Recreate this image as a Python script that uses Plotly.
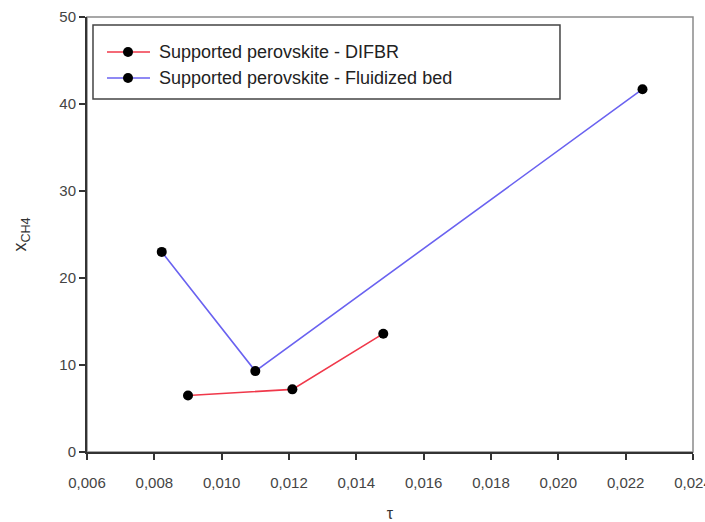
import plotly.graph_objects as go

# Residence time (tau) and CH4 conversion for the two reactor set-ups
tau_difbr = [0.0090, 0.0121, 0.0148]
x_difbr = [6.5, 7.2, 13.6]

tau_fluid = [0.00822, 0.0110, 0.0225]
x_fluid = [23.0, 9.3, 41.7]

name_difbr = "Supported perovskite - DIFBR"
name_fluid = "Supported perovskite - Fluidized bed"

x_ticks = [0.006, 0.008, 0.010, 0.012, 0.014, 0.016, 0.018, 0.020, 0.022, 0.024]
y_ticks = [0, 10, 20, 30, 40, 50]

FONT = "Liberation Sans, Arial, sans-serif"
RED = "#f0384a"
BLUE = "#6a62f0"

fig = go.Figure()
fig.add_trace(go.Scatter(
    x=tau_difbr, y=x_difbr, mode="lines+markers", name=name_difbr,
    line=dict(color=RED, width=1.6),
    marker=dict(color="black", size=10),
))
fig.add_trace(go.Scatter(
    x=tau_fluid, y=x_fluid, mode="lines+markers", name=name_fluid,
    line=dict(color=BLUE, width=1.6),
    marker=dict(color="black", size=10),
))

# light frame around the plotting area (top and right edges)
fig.add_shape(type="rect", xref="paper", yref="paper", x0=0, y0=0, x1=1, y1=1,
              line=dict(color="#8a8a8a", width=1.5), layer="below")

# boxed key in the upper-left corner (paper coordinates)
fig.add_shape(type="rect", xref="paper", yref="paper",
              x0=0.0099, x1=0.7805, y0=0.8115, y1=0.9816,
              line=dict(color="#444444", width=1.5), fillcolor="white", layer="above")
for (label, colour, yk) in [(name_difbr, RED, 0.9195), (name_fluid, BLUE, 0.8598)]:
    fig.add_shape(type="line", xref="paper", yref="paper",
                  x0=0.033, x1=0.104, y0=yk, y1=yk,
                  line=dict(color=colour, width=1.6), layer="above")
    fig.add_shape(type="circle", xref="paper", yref="paper", xsizemode="pixel", ysizemode="pixel",
                  xanchor=0.0677, yanchor=yk, x0=-5, x1=5, y0=-5, y1=5,
                  line=dict(color="black", width=0), fillcolor="black", layer="above")
    fig.add_annotation(xref="paper", yref="paper", x=0.1155, y=yk,
                       xanchor="left", yanchor="middle", showarrow=False,
                       text=label, font=dict(size=18, color="#222222", family=FONT))

fig.update_layout(
    width=705, height=522,
    margin=dict(l=87, r=12, t=17, b=70),
    paper_bgcolor="white", plot_bgcolor="white",
    separators=",.",
    font=dict(family=FONT, color="#333333"),
    showlegend=False,
    xaxis=dict(
        range=[0.006, 0.024], tickvals=x_ticks, tickformat=".3f",
        ticks="outside", ticklen=6, tickcolor="#333333", tickwidth=1.5,
        showline=True, linecolor="#333333", linewidth=2,
        showgrid=False, zeroline=False, automargin=False,
        ticklabeloverflow="allow", ticklabelstandoff=10,
        tickfont=dict(size=15, color="#444444"),
        title=dict(text="τ", font=dict(size=16, color="#333333"), standoff=26),
    ),
    yaxis=dict(
        range=[0, 50], tickvals=y_ticks,
        ticks="outside", ticklen=6, tickcolor="#333333", tickwidth=1.5,
        showline=True, linecolor="#333333", linewidth=2,
        showgrid=False, zeroline=False, automargin=False,
        tickfont=dict(size=15, color="#444444"),
        title=dict(text="x<sub>CH4</sub>", font=dict(size=18, color="#333333"), standoff=28),
    ),
)

fig.write_html("out.html")
